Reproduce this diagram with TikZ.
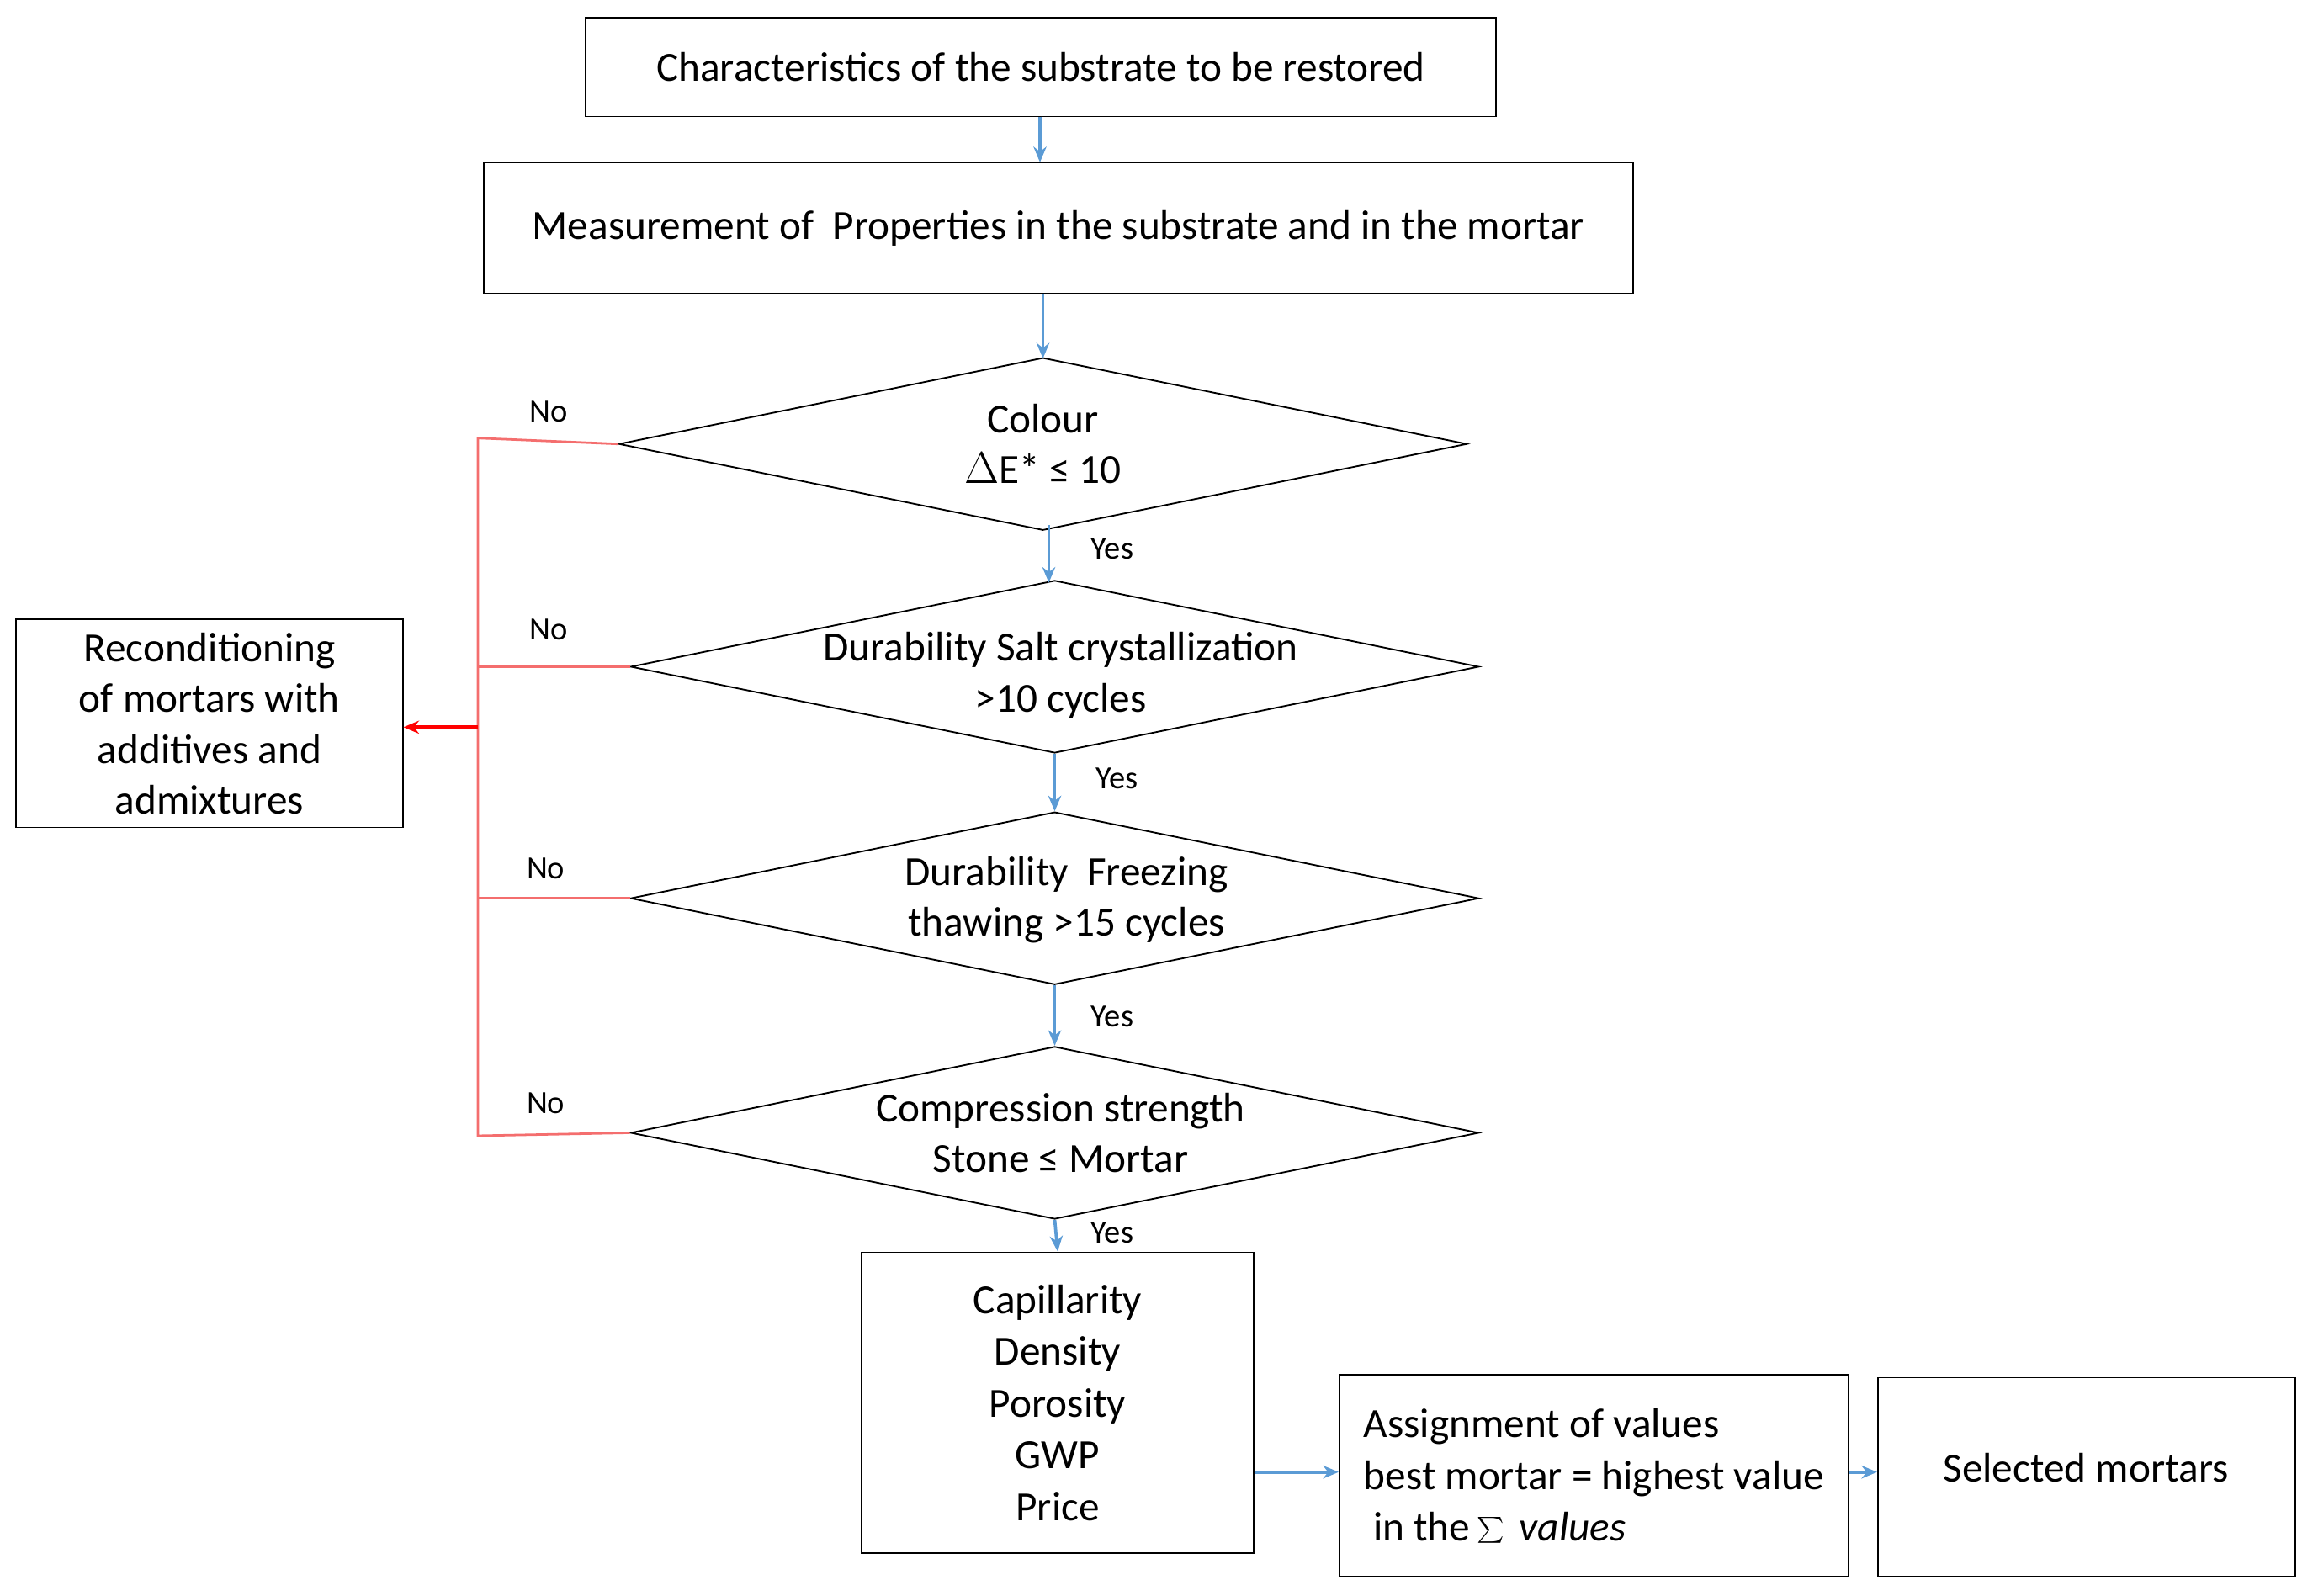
\documentclass[tikz,border=0pt]{standalone}
\usepackage{fontspec}
\setmainfont{Carlito}
\usetikzlibrary{shapes.geometric,arrows.meta}
\definecolor{ablue}{RGB}{91,155,213}
\definecolor{lred}{RGB}{244,110,110}
\begin{document}
\begin{tikzpicture}[x=0.02cm,y=-0.02cm,
  every node/.style={font=\fontsize{16}{19.6}\selectfont},
  box/.style={draw=black,line width=0.6pt,inner sep=0pt,align=center},
  dia/.style={draw=black,line width=0.6pt,diamond,inner sep=0pt,minimum width=575*0.02cm,minimum height=117*0.02cm},
  lab/.style={font=\fontsize{12.5}{14}\selectfont},
  barr/.style={draw=ablue,line width=1.2pt,-{Stealth[length=6pt,width=5pt]}},
  rl/.style={draw=lred,line width=0.9pt}]
\useasboundingbox (0,0) rectangle (1568,1082);
\node[box,minimum width=617*0.02cm,minimum height=67*0.02cm] (b1) at (705.5,45.5) {Characteristics of the substrate to be restored};
\node[box,minimum width=779*0.02cm,minimum height=89*0.02cm] (b2) at (717.5,154.5) {Measurement of\ \ Properties in the substrate and in the mortar};
\node[dia] (d1) at (707,301) {};
\node[align=center] at (707,301) {Colour\\$\Delta$E* ≤ 10};
\node[dia] (d2) at (715,452) {};
\node[align=center] at (719,458) {Durability Salt crystallization\\>10 cycles};
\node[dia] (d3) at (715,609) {};
\node[align=center] at (723,610) {Durability\ \ Freezing\\thawing >15 cycles};
\node[dia] (d4) at (715,768) {};
\node[align=center] at (719,768) {Compression strength\\Stone ≤ Mortar};
\node[box,minimum width=266*0.02cm,minimum height=204*0.02cm,font=\fontsize{16}{20}\selectfont] (b3) at (717,951) {Capillarity\\Density\\Porosity\\GWP\\Price};
\node[box,minimum width=345*0.02cm,minimum height=137*0.02cm,align=left,font=\fontsize{16}{20}\selectfont] (b4) at (1080.5,1000.5) {Assignment of values\\best mortar = highest value\\\ in the\,$\sum\,\mathit{values}$};
\node[box,minimum width=283*0.02cm,minimum height=135*0.02cm] (b5) at (1414.5,1001.5) {};
\node at (1414,995) {Selected mortars};
\node[box,minimum width=262*0.02cm,minimum height=141*0.02cm] (r) at (142,490.5) {Reconditioning\\of mortars with\\additives and\\admixtures};
\draw[barr] (705,79) -- (705,110);
\draw[barr] (707,199) -- (707,243);
\draw[barr] (711,356) -- (711,395);
\draw[barr] (d2.south) -- (d3.north);
\draw[barr] (d3.south) -- (d4.north);
\draw[barr] (d4.south) -- (b3.north);
\draw[barr] (b3.east|-0,998) -- (b4.west|-0,998);
\draw[barr] (b4.east|-0,998) -- (b5.west|-0,998);
\coordinate (vt) at (324,297);
\coordinate (vb) at (324,770);
\coordinate (vm) at (324,493);
\draw[rl] (d1.west) -- (vt) -- (vb) -- (d4.west);
\draw[rl] (d2.west) -- (d2.west-|vt);
\draw[rl] (d3.west) -- (d3.west-|vt);
\draw[draw=red,line width=1.3pt,-{Stealth[length=6pt,width=5pt]}] (vm) -- (r.east|-vm);
\node[lab] at (372,279) {No};
\node[lab] at (372,427) {No};
\node[lab] at (370,589) {No};
\node[lab] at (370,748) {No};
\node[lab] at (754,372) {Yes};
\node[lab] at (757,528) {Yes};
\node[lab] at (754,689) {Yes};
\node[lab] at (754,836) {Yes};
\end{tikzpicture}
\end{document}
